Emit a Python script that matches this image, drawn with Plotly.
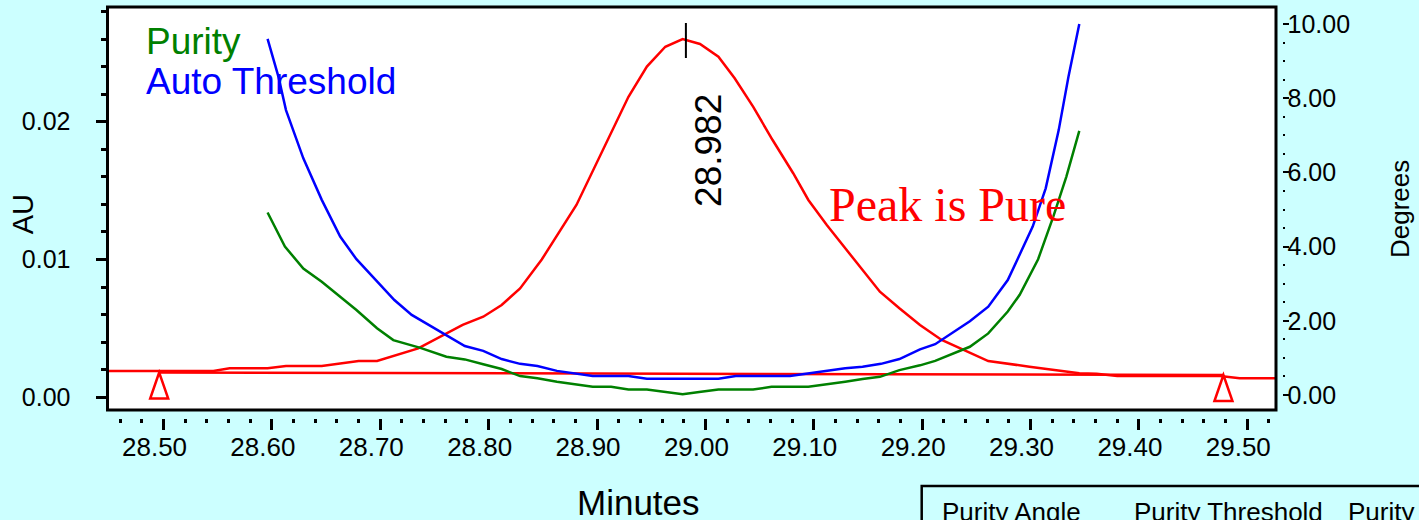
import plotly.graph_objects as go

# Chromatogram (AU) at the peak
chrom_time = [28.448, 28.546, 28.561, 28.596, 28.613, 28.646, 28.680, 28.697, 28.735,
              28.776, 28.795, 28.812, 28.829, 28.849, 28.881, 28.904, 28.929, 28.946,
              28.963, 28.979, 28.995, 29.012, 29.027, 29.044, 29.062, 29.081, 29.095,
              29.112, 29.136, 29.161, 29.179, 29.198, 29.218, 29.238, 29.261, 29.299,
              29.345, 29.361, 29.380, 29.475, 29.493, 29.527]
chrom_au = [0.00191, 0.00191, 0.00210, 0.00210, 0.00227, 0.00227, 0.00263, 0.00263, 0.00355,
            0.00525, 0.00585, 0.00670, 0.00790, 0.01000, 0.01396, 0.01770, 0.02181, 0.02400,
            0.02544, 0.02600, 0.02564, 0.02472, 0.02315, 0.02109, 0.01867, 0.01626, 0.01432,
            0.01250, 0.01010, 0.00766, 0.00646, 0.00525, 0.00416, 0.00343, 0.00263, 0.00222,
            0.00174, 0.00170, 0.00155, 0.00155, 0.00138, 0.00138]

# Purity angle (degrees)
purity_time = [28.596, 28.612, 28.629, 28.646, 28.678, 28.697, 28.712, 28.737, 28.761,
               28.778, 28.795, 28.812, 28.829, 28.845, 28.863, 28.879, 28.896, 28.913,
               28.929, 28.946, 28.963, 28.979, 28.996, 29.012, 29.044, 29.061, 29.095,
               29.112, 29.129, 29.145, 29.161, 29.179, 29.198, 29.212, 29.244, 29.261,
               29.279, 29.290, 29.307, 29.321, 29.333, 29.345]
purity_deg = [4.92, 4.00, 3.41, 3.05, 2.29, 1.80, 1.48, 1.27, 1.03,
              0.96, 0.83, 0.70, 0.51, 0.45, 0.36, 0.30, 0.22, 0.22,
              0.15, 0.15, 0.09, 0.02, 0.09, 0.15, 0.15, 0.22, 0.22,
              0.30, 0.36, 0.43, 0.49, 0.67, 0.80, 0.92, 1.30, 1.66,
              2.25, 2.70, 3.66, 4.81, 5.88, 7.12]

# Auto threshold (degrees)
thresh_time = [28.596, 28.606, 28.613, 28.621, 28.629, 28.646, 28.663, 28.678, 28.697,
               28.713, 28.729, 28.737, 28.761, 28.778, 28.795, 28.812, 28.829, 28.845,
               28.863, 28.879, 28.896, 28.929, 28.946, 29.012, 29.028, 29.078, 29.095,
               29.112, 29.129, 29.145, 29.162, 29.179, 29.198, 29.212, 29.244, 29.261,
               29.279, 29.288, 29.302, 29.314, 29.326, 29.335, 29.345]
thresh_deg = [9.60, 8.58, 7.68, 7.05, 6.38, 5.26, 4.27, 3.66, 3.05,
              2.56, 2.16, 2.02, 1.62, 1.32, 1.19, 0.97, 0.84, 0.78,
              0.65, 0.58, 0.51, 0.51, 0.44, 0.44, 0.51, 0.51, 0.58,
              0.65, 0.72, 0.76, 0.84, 0.97, 1.23, 1.37, 1.99, 2.38,
              3.10, 3.66, 4.54, 5.57, 7.14, 8.58, 10.00]

# Integration baseline: start and end events
baseline_time = [28.496, 29.478]
baseline_au = [0.00180, 0.00162]

# Peak apex
peak_rt = 28.982
peak_au = 0.02600

W, H = 1419, 520
BG = "#CCFFFF"
SANS = "Liberation Sans, Arial, sans-serif"
SERIF = "Liberation Serif, Times New Roman, serif"

# plot frame in pixels
L, R, T, B = 107.5, 1276.0, 7.0, 410.0


def px(x):
    return x / W


def py(y):
    return 1 - y / H


fig = go.Figure()

fig.add_trace(go.Scatter(x=chrom_time, y=chrom_au, mode="lines",
                         line=dict(color="#FF0000", width=2.5), yaxis="y", showlegend=False))
fig.add_trace(go.Scatter(x=baseline_time, y=baseline_au, mode="lines",
                         line=dict(color="#FF0000", width=2.5), yaxis="y", showlegend=False))
fig.add_trace(go.Scatter(x=purity_time, y=purity_deg, mode="lines",
                         line=dict(color="#008000", width=2.5), yaxis="y2", showlegend=False))
fig.add_trace(go.Scatter(x=thresh_time, y=thresh_deg, mode="lines",
                         line=dict(color="#0000FF", width=2.5), yaxis="y2", showlegend=False))

shapes = []
# plot frame
shapes.append(dict(type="rect", xref="paper", yref="paper",
                   x0=px(L), x1=px(R), y0=py(B), y1=py(T),
                   line=dict(color="black", width=3), layer="above"))
# baseline event triangles
for t, v in zip(baseline_time, baseline_au):
    shapes.append(dict(type="path", xref="x", yref="y",
                       xsizemode="pixel", xanchor=t,
                       ysizemode="pixel", yanchor=v,
                       path="M0,0 L-9,-26 L9,-26 Z",
                       line=dict(color="#FF0000", width=2.5)))
# apex marker
shapes.append(dict(type="line", xref="x", yref="y", x0=peak_rt, x1=peak_rt,
                   ysizemode="pixel", yanchor=peak_au, y0=-19, y1=16,
                   line=dict(color="black", width=2)))
# results table frame
shapes.append(dict(type="rect", xref="paper", yref="paper",
                   x0=px(921.7), x1=px(1440), y0=py(540), y1=py(486),
                   line=dict(color="black", width=2.5)))

annotations = [
    dict(text="Purity", x=px(144), y=py(41.3), xanchor="left", yanchor="middle",
         font=dict(family=SANS, size=37, color="#008000")),
    dict(text="Auto Threshold", x=px(144), y=py(81.7), xanchor="left", yanchor="middle",
         font=dict(family=SANS, size=37, color="#0000FF")),
    dict(text="Peak is Pure", x=px(827), y=py(204.9), xanchor="left", yanchor="middle",
         font=dict(family=SERIF, size=48, color="#FF0000")),
    dict(text=f"{peak_rt:.3f}", x=peak_rt, y=peak_au, xref="x", yref="y",
         xanchor="center", yanchor="middle", xshift=22, yshift=-111, textangle=-90,
         font=dict(family=SANS, size=37, color="black")),
    dict(text="Minutes", x=px(638), y=py(502.5), xanchor="center", yanchor="middle",
         font=dict(family=SANS, size=35, color="black")),
    dict(text="AU", x=px(23.3), y=py(214), xanchor="center", yanchor="middle", textangle=-90,
         font=dict(family=SANS, size=29, color="black")),
    dict(text="Degrees", x=px(1400), y=py(209), xanchor="center", yanchor="middle", textangle=-90,
         font=dict(family=SANS, size=26, color="black")),
    dict(text="Purity Angle", x=px(940), y=py(512), xanchor="left", yanchor="middle",
         font=dict(family=SANS, size=26, color="black")),
    dict(text="Purity Threshold", x=px(1132), y=py(512), xanchor="left", yanchor="middle",
         font=dict(family=SANS, size=26, color="black")),
    dict(text="Purity", x=px(1346), y=py(512), xanchor="left", yanchor="middle",
         font=dict(family=SANS, size=26, color="black")),
]
for a in annotations:
    a.setdefault("xref", "paper")
    a.setdefault("yref", "paper")
    a["showarrow"] = False

tick_font = dict(family=SANS, size=25, color="black")
xtick_font = dict(family=SANS, size=26, color="black")

fig.update_layout(
    width=W, height=H, autosize=False,
    margin=dict(l=0, r=0, t=0, b=0),
    paper_bgcolor=BG, plot_bgcolor="white",
    shapes=shapes, annotations=annotations,
    xaxis=dict(domain=[px(L), px(R)], range=[28.4483, 29.5265],
               anchor="free", position=py(418),
               showline=False, showgrid=False, zeroline=False,
               dtick=0.1, tick0=28.5, tickformat=".2f",
               ticks="outside", ticklen=11, tickwidth=2.5, tickcolor="black",
               minor=dict(dtick=0.02, tick0=28.5, ticks="outside", ticklen=3.5,
                          tickwidth=2.5, tickcolor="black", showgrid=False),
               tickfont=xtick_font, ticklabelshift=-9, ticklabelstandoff=-5),
    yaxis=dict(domain=[py(B), py(T)], range=[-0.000922, 0.028324],
               anchor="free", position=px(L),
               showline=False, showgrid=False, zeroline=False,
               dtick=0.01, tick0=0, tickformat=".2f",
               ticks="outside", ticklen=12, tickwidth=2.5, tickcolor="black",
               minor=dict(dtick=0.002, tick0=0, ticks="outside", ticklen=7,
                          tickwidth=2.5, tickcolor="black", showgrid=False),
               tickfont=tick_font, ticklabelstandoff=20),
    yaxis2=dict(domain=[py(B), py(T)], range=[-0.404, 10.458],
                overlaying="y", side="right", anchor="free", position=px(1281.5),
                showline=False, showgrid=False, zeroline=False,
                dtick=2, tick0=0, tickformat=".2f",
                ticks="outside", ticklen=6, tickwidth=2, tickcolor="black",
                minor=dict(dtick=0.5, tick0=0, ticks="outside", ticklen=2,
                           tickwidth=2, tickcolor="black", showgrid=False),
                tickfont=tick_font, ticklabelstandoff=-6),
)

fig.write_html("out.html")
